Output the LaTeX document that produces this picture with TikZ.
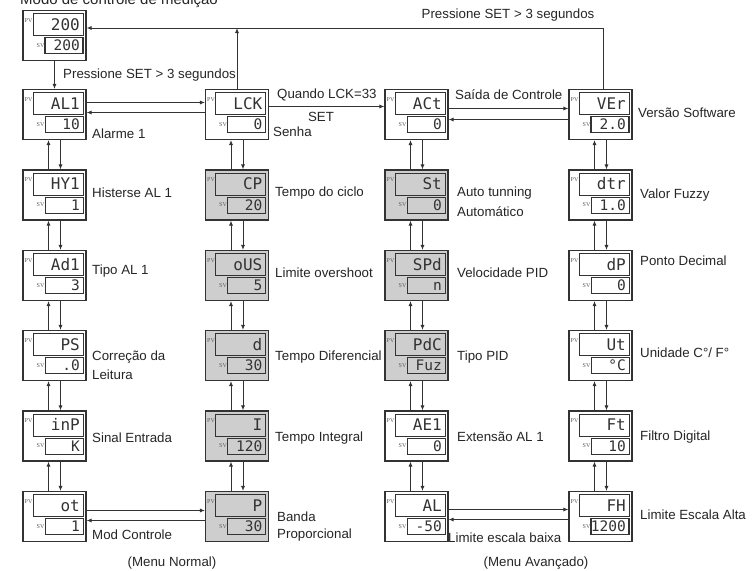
\documentclass[tikz,border=0pt]{standalone}
\usepackage{fontspec}
\setmainfont{Liberation Sans}
\newfontfamily\segfont{DejaVu Sans Mono}
\newfontfamily\pvfont{Liberation Serif}
\usetikzlibrary{arrows.meta}
\definecolor{ln}{HTML}{333333}
\definecolor{gb}{HTML}{CECECE}
\tikzset{
 box/.style={draw=ln,line width=1.1pt,minimum width=63pt,minimum height=50pt,inner sep=0pt},
 disp/.style={draw=ln,line width=1pt},
 arr/.style={draw=ln,line width=0.9pt,-{Latex[length=5pt,width=4pt]}},
 lbl/.style={font=\fontsize{13.3}{15}\selectfont,inner sep=0pt,text=black!85},
 pvtxt/.style={font=\segfont\fontsize{16}{16}\selectfont,inner sep=0pt,anchor=base east,text=black!80},
 svtxt/.style={font=\segfont\fontsize{14.5}{14.5}\selectfont,inner sep=0pt,anchor=base east,text=black!80},
 tinylbl/.style={font=\pvfont\fontsize{6}{6}\selectfont,inner sep=0pt,text=ln!80},
}
\newcommand\unitbox[7]{%
\node[box,fill=#6] (#1) at (#2,#3) {};
\begin{scope}[shift={(#2,#3)}]
\draw[disp,fill=#6] (-21.5,-22) rectangle (28.5,0);
\draw[disp,fill=#6,line width=#7] (-9.5,2) rectangle (28.5,18);
\node[tinylbl] (#1pvl) at (-26,-15) {PV};
\node[tinylbl] (#1svl) at (-14,10) {SV};
\node[pvtxt] (#1pv) at (25.5,-5.2) {#4};
\node[svtxt] (#1sv) at (25.5,15) {#5};
\end{scope}}
\begin{document}
\begin{tikzpicture}[x=1pt,y=-1pt]
\useasboundingbox[fill=white] (0,0) rectangle (754,570);
\node[lbl,font=\fontsize{15}{17}\selectfont,anchor=base west] (title) at (20,5) {Modo de controle de medição};
% top unit
\unitbox{top}{54.5}{35.5}{200}{200}{white}{1.8pt}
% column 1
\unitbox{AL1}{54.5}{114.5}{AL1}{10}{white}{1pt}
\unitbox{HY1}{54.5}{195}{HY1}{1}{white}{1pt}
\unitbox{Ad1}{54.5}{275.5}{Ad1}{3}{white}{1pt}
\unitbox{PS}{54.5}{355.5}{PS}{.0}{white}{1pt}
\unitbox{inP}{54.5}{436}{inP}{K}{white}{1pt}
\unitbox{ot}{54.5}{516.5}{ot}{1}{white}{1pt}
% column 2
\unitbox{LCK}{237}{114.5}{LCK}{0}{white}{1pt}
\unitbox{CP}{237}{195}{CP}{20}{gb}{1pt}
\unitbox{oUS}{237}{275.5}{oUS}{5}{gb}{1pt}
\unitbox{dd}{237}{355.5}{d}{30}{gb}{1pt}
\unitbox{II}{237}{436}{I}{120}{gb}{1pt}
\unitbox{PP}{237}{516.5}{P}{30}{gb}{1pt}
% column 3
\unitbox{ACt}{416.5}{114.5}{ACt}{0}{white}{1pt}
\unitbox{St}{416.5}{195}{St}{0}{gb}{1pt}
\unitbox{SPd}{416.5}{275.5}{SPd}{n}{gb}{1pt}
\unitbox{PdC}{416.5}{355.5}{PdC}{Fuz}{gb}{1pt}
\unitbox{AE1}{416.5}{436}{AE1}{0}{white}{1pt}
\unitbox{AL}{416.5}{516.5}{AL}{-50}{white}{1pt}
% column 4
\unitbox{VEr}{600.5}{114.5}{VEr}{2.0}{white}{1.8pt}
\unitbox{dtr}{600.5}{195}{dtr}{1.0}{white}{1pt}
\unitbox{dP}{600.5}{275.5}{dP}{0}{white}{1pt}
\unitbox{Ut}{600.5}{355.5}{Ut}{°C}{white}{1pt}
\unitbox{Ft}{600.5}{436}{Ft}{10}{white}{1pt}
\unitbox{FH}{600.5}{516.5}{FH}{1200}{white}{1.8pt}
% vertical pairs
\foreach \a/\b in {AL1/HY1,HY1/Ad1,Ad1/PS,PS/inP,inP/ot,
                   LCK/CP,CP/oUS,oUS/dd,dd/II,II/PP,
                   ACt/St,St/SPd,SPd/PdC,PdC/AE1,AE1/AL,
                   VEr/dtr,dtr/dP,dP/Ut,Ut/Ft,Ft/FH}{
  \draw[arr] ([xshift=-6pt]\b.north) -- ([xshift=-6pt]\a.south);
  \draw[arr] ([xshift=6pt]\a.south) -- ([xshift=6pt]\b.north);
}
% top connections
\draw[arr] (top.south) -- (AL1.north);
\coordinate (jn) at (237,28);
\draw[arr] ([xshift=2.5pt]VEr.north) |- ([yshift=7.5pt]top.east);
\draw[arr] (LCK.north) -- (LCK.north |- jn);
% horizontal row 1
\draw[arr] ([yshift=12pt]AL1.east) -- ([yshift=12pt]LCK.west);
\draw[arr] ([yshift=2pt]LCK.west) -- ([yshift=2pt]AL1.east);
\draw[arr] ([yshift=8pt]LCK.east) -- ([yshift=8pt]ACt.west);
\draw[arr] ([yshift=6pt]ACt.east) -- ([yshift=6pt]VEr.west);
\draw[arr] ([yshift=-5pt]VEr.west) -- ([yshift=-5pt]ACt.east);
% horizontal row 6
\draw[arr] ([yshift=6pt]ot.east) -- ([yshift=6pt]PP.west);
\draw[arr] ([yshift=-4pt]PP.west) -- ([yshift=-4pt]ot.east);
\draw[arr] ([yshift=7pt]AL.east) -- ([yshift=7pt]FH.west);
\draw[arr] ([yshift=-3pt]FH.west) -- ([yshift=-3pt]AL.east);
% labels
\node[lbl] (ptop) at (508,15) {Pressione SET > 3 segundos};
\node[lbl,anchor=west] (pbot) at (63,75) {Pressione SET > 3 segundos};
\node[lbl,anchor=west] (t1) at (92,134) {Alarme 1};
\node[lbl,anchor=west] (t2) at (92,193) {Histerse AL 1};
\node[lbl,anchor=west] (t3) at (92,271) {Tipo AL 1};
\node[lbl,anchor=west] (t4a) at (92,357) {Correção da};
\node[lbl,anchor=west] (t4b) at (92,375) {Leitura};
\node[lbl,anchor=west] (t5) at (92,438) {Sinal Entrada};
\node[lbl,anchor=west] (t6) at (92,535) {Mod Controle};
\node[lbl,anchor=west] (q1) at (277,95) {Quando LCK=33};
\node[lbl] (q2) at (321,117) {SET};
\node[lbl,anchor=west] (s1) at (273,132) {Senha};
\node[lbl,anchor=west] (s2) at (275,193) {Tempo do ciclo};
\node[lbl,anchor=west] (s3) at (275,273) {Limite overshoot};
\node[lbl,anchor=west] (s4) at (275,357) {Tempo Diferencial};
\node[lbl,anchor=west] (s5) at (275,438) {Tempo Integral};
\node[lbl,anchor=west] (s6a) at (277,517) {Banda};
\node[lbl,anchor=west] (s6b) at (277,535) {Proporcional};
\node[lbl,anchor=west] (a1) at (455,95) {Saída de Controle};
\node[lbl,anchor=west] (a2a) at (457,193) {Auto tunning};
\node[lbl,anchor=west] (a2b) at (457,212) {Automático};
\node[lbl,anchor=west] (a3) at (457,273) {Velocidade PID};
\node[lbl,anchor=west] (a4) at (457,357) {Tipo PID};
\node[lbl,anchor=west] (a5) at (457,437) {Extensão AL 1};
\node[lbl,anchor=west] (a6) at (448,538) {Limite escala baixa};
\node[lbl,anchor=west] (v1) at (638,113) {Versão Software};
\node[lbl,anchor=west] (v2) at (640,195) {Valor Fuzzy};
\node[lbl,anchor=west] (v3) at (640,261) {Ponto Decimal};
\node[lbl,anchor=west] (v4) at (640,353) {Unidade C°/ F°};
\node[lbl,anchor=west] (v5) at (640,437) {Filtro Digital};
\node[lbl,anchor=west] (v6) at (640,515) {Limite Escala Alta};
\node[lbl] (mn) at (172,563) {(Menu Normal)};
\node[lbl] (ma) at (536,563) {(Menu Avançado)};
\end{tikzpicture}
\end{document}
